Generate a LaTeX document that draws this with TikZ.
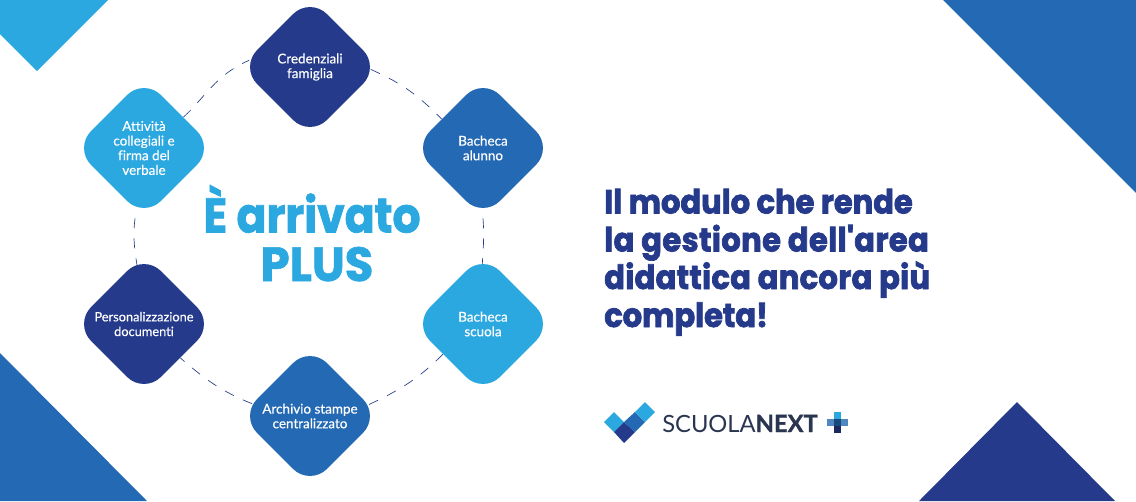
\documentclass[tikz,border=0pt]{standalone}
\usepackage{fontspec}
\setmainfont{Lato}
\newfontfamily\cardf[FakeBold=0.4,Ligatures=NoCommon]{Lato}
\newfontfamily\headf[BoldFeatures={FakeBold=1.6,FakeStretch=0.905}]{Poppins}
\newfontfamily\plusf[BoldFeatures={FakeBold=1.2,FakeStretch=0.97}]{Poppins}
\newfontfamily\claimf[BoldFeatures={FakeBold=2.2,FakeStretch=0.915}]{Poppins}
\newfontfamily\claimwide[BoldFeatures={FakeBold=2.2,FakeStretch=0.915,LetterSpace=1.3}]{Poppins}
\newfontfamily\claimmid[BoldFeatures={FakeBold=2.2,FakeStretch=0.915,LetterSpace=1}]{Poppins}
\newfontfamily\nextf[BoldFeatures={FakeBold=1.2}]{Lato}
\usetikzlibrary{shapes.geometric}
\pgfdeclarelayer{back}
\pgfsetlayers{back,main}
\definecolor{navy}{HTML}{253A8A}
\definecolor{midb}{HTML}{2469B3}
\definecolor{lightb}{HTML}{2CA8E1}
\definecolor{logot}{HTML}{2A3550}
\tikzset{
  card/.style={diamond,aspect=1,inner sep=0pt,minimum width=105pt,minimum height=105pt,rounded corners=18pt,fill=#1,text=white,align=center,font=\fontsize{10.1}{11}\selectfont\cardf},
  conn/.style={navy,line width=0.5pt,dash pattern=on 7.5pt off 7.5pt},
  tri/.style={fill=#1,draw=none},
  headline/.style={lightb,inner sep=0pt,anchor=base},
  claim/.style={navy,font=\fontsize{25}{29}\selectfont\bfseries,inner sep=0pt,anchor=base west},
  tick/.style={fill=#1,draw=none}
}
\begin{document}
\begin{tikzpicture}[x=0.75pt,y=-0.75pt]
\useasboundingbox (0,0) rectangle (1136,501);
% corner triangles
\fill[tri=lightb] (0,0) -- (108,0) -- (37,71) -- (0,34) -- cycle;
\fill[tri=midb] (943,0) -- (1136,0) -- (1136,193) -- cycle;
\fill[tri=midb] (0,353) -- (147,501) -- (0,501) -- cycle;
\fill[tri=navy] (919,501) -- (1017,402) -- (1115,501) -- cycle;
% cards
\node[card=navy] (c1) at (310,67) {Credenziali\\famiglia};
\node[card=midb] (c2) at (483,148) {Bacheca\\alunno};
\node[card=lightb] (c3) at (483,324) {Bacheca\\scuola};
\node[card=midb] (c4) at (310,416) {Archivio stampe\\centralizzato};
\node[card=navy,font=\fontsize{9.6}{11}\selectfont\cardf] (c5) at (144,324) {Personalizzazione\\documenti};
\node[card=lightb] (c6) at (144,148) {Attività\\collegiali e\\firma del\\verbale};
% connectors
\begin{pgfonlayer}{back}
\draw[conn,shorten <=-4pt] (c1.-4) to[out=-24,in=135] (c2.145);
\draw[conn,shorten >=-8pt] (c2.south) to[out=-86,in=86] (c3.north);
\draw[conn] (c3.-143) to[out=-135,in=25] (c4.11.5);
\draw[conn] (c4.168) to[out=158,in=-41] (c5.-43.6);
\draw[conn,shorten >=-8pt,dash phase=9pt] (c6.-97) to[out=-100,in=100] (c5.97);
\draw[conn,shorten >=-4pt] (c6.38.5) to[out=43,in=204] (c1.176);
\end{pgfonlayer}
% headline
\node[headline,font=\fontsize{36.5}{40}\selectfont\headf\bfseries] (h1) at (312,232.5) {È arrivato};
\node[headline,font=\fontsize{36}{40}\selectfont\plusf\bfseries] (h2) at (317,281) {PLUS};
% claim
\node[claim] (t1) at (604,213.5) {\claimf\bfseries Il modulo che rende};
\node[claim] (t2) at (604,251.5) {\claimwide\bfseries la gestione dell'area};
\node[claim] (t3) at (604,289) {\claimmid\bfseries didattica ancora più};
\node[claim] (t4) at (604,327) {\claimf\bfseries completa!};
% logo
\fill[tick=lightb] (604,422) -- (614,412) -- (624,422) -- (614,432) -- cycle;
\fill[tick=navy] (614,432) -- (624,422) -- (635,432) -- (624,443) -- cycle;
\fill[tick=midb] (624,422) -- (635,412) -- (645,422) -- (635,432) -- cycle;
\fill[tick=lightb] (635,412) -- (645,402) -- (655,412) -- (645,422) -- cycle;
\node[logot,inner sep=0pt,anchor=base west,font=\fontsize{17.8}{19}\selectfont] (logo) at (662,432) {SCUOLA{\nextf\bfseries NEXT}};
\fill[tick=lightb] (834,412) rectangle (841,419);
\fill[tick=navy!70!black] (834,426) rectangle (841,433);
\fill[tick=midb!80!white] (827,419) rectangle (848,426);
\fill[tick=midb!70!black] (834,419) rectangle (841,426);
\end{tikzpicture}
\end{document}
